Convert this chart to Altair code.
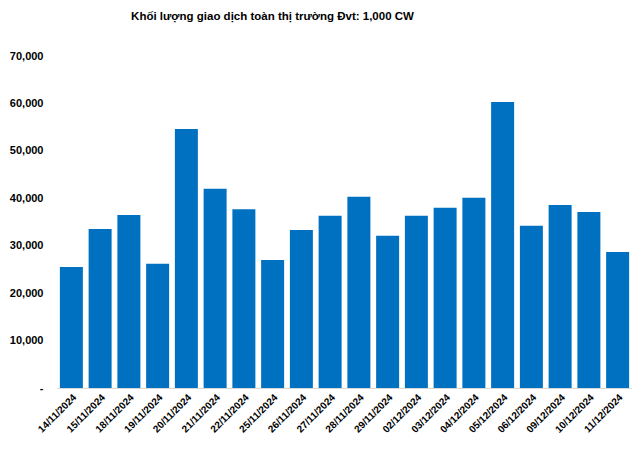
import altair as alt
import pandas as pd

dates = ["14/11/2024", "15/11/2024", "18/11/2024", "19/11/2024", "20/11/2024",
         "21/11/2024", "22/11/2024", "25/11/2024", "26/11/2024", "27/11/2024",
         "28/11/2024", "29/11/2024", "02/12/2024", "03/12/2024", "04/12/2024",
         "05/12/2024", "06/12/2024", "09/12/2024", "10/12/2024", "11/12/2024"]
volumes = [25500, 33500, 36500, 26200, 54600, 42000, 37700, 27000, 33300, 36300,
           40300, 32100, 36300, 38000, 40100, 60300, 34200, 38600, 37100, 28700]

df = pd.DataFrame({"date": dates, "volume": volumes})

chart = alt.Chart(df).mark_bar(color="#0070C0").encode(
    x=alt.X("date:N", sort=dates, title=None,
            scale=alt.Scale(paddingInner=0.2, paddingOuter=0.1),
            axis=alt.Axis(labelAngle=-45, labelFontWeight="bold", labelFontSize=10,
                          labelColor="#000000", ticks=False, domainColor="#d9d9d9",
                          labelPadding=4, labelFont="Liberation Sans")),
    y=alt.Y("volume:Q", title=None,
            scale=alt.Scale(domain=[0, 70000], nice=False),
            axis=alt.Axis(values=[0, 10000, 20000, 30000, 40000, 50000, 60000, 70000],
                          labelExpr="datum.value == 0 ? '-' : format(datum.value, ',')",
                          grid=False, domain=False, ticks=False, labelPadding=14,
                          labelOverlap=False, labelBound=False,
                          labelFontWeight="bold", labelFontSize=11, labelColor="#000000",
                          labelFont="Liberation Sans")),
).properties(
    width=575, height=332,
    autosize=alt.AutoSizeParams(type="none"),
    padding={"left": 49, "top": 48, "right": 0, "bottom": 54},
    title=alt.TitleParams("Khối lượng giao dịch toàn thị trường Đvt: 1,000 CW",
                          font="Liberation Sans", fontSize=11.5, fontWeight="bold",
                          color="#000000", anchor="middle", dx=-72, offset=28),
).configure_view(stroke=None)

chart.save("out.html", embed_options={"renderer": "svg", "actions": False})
